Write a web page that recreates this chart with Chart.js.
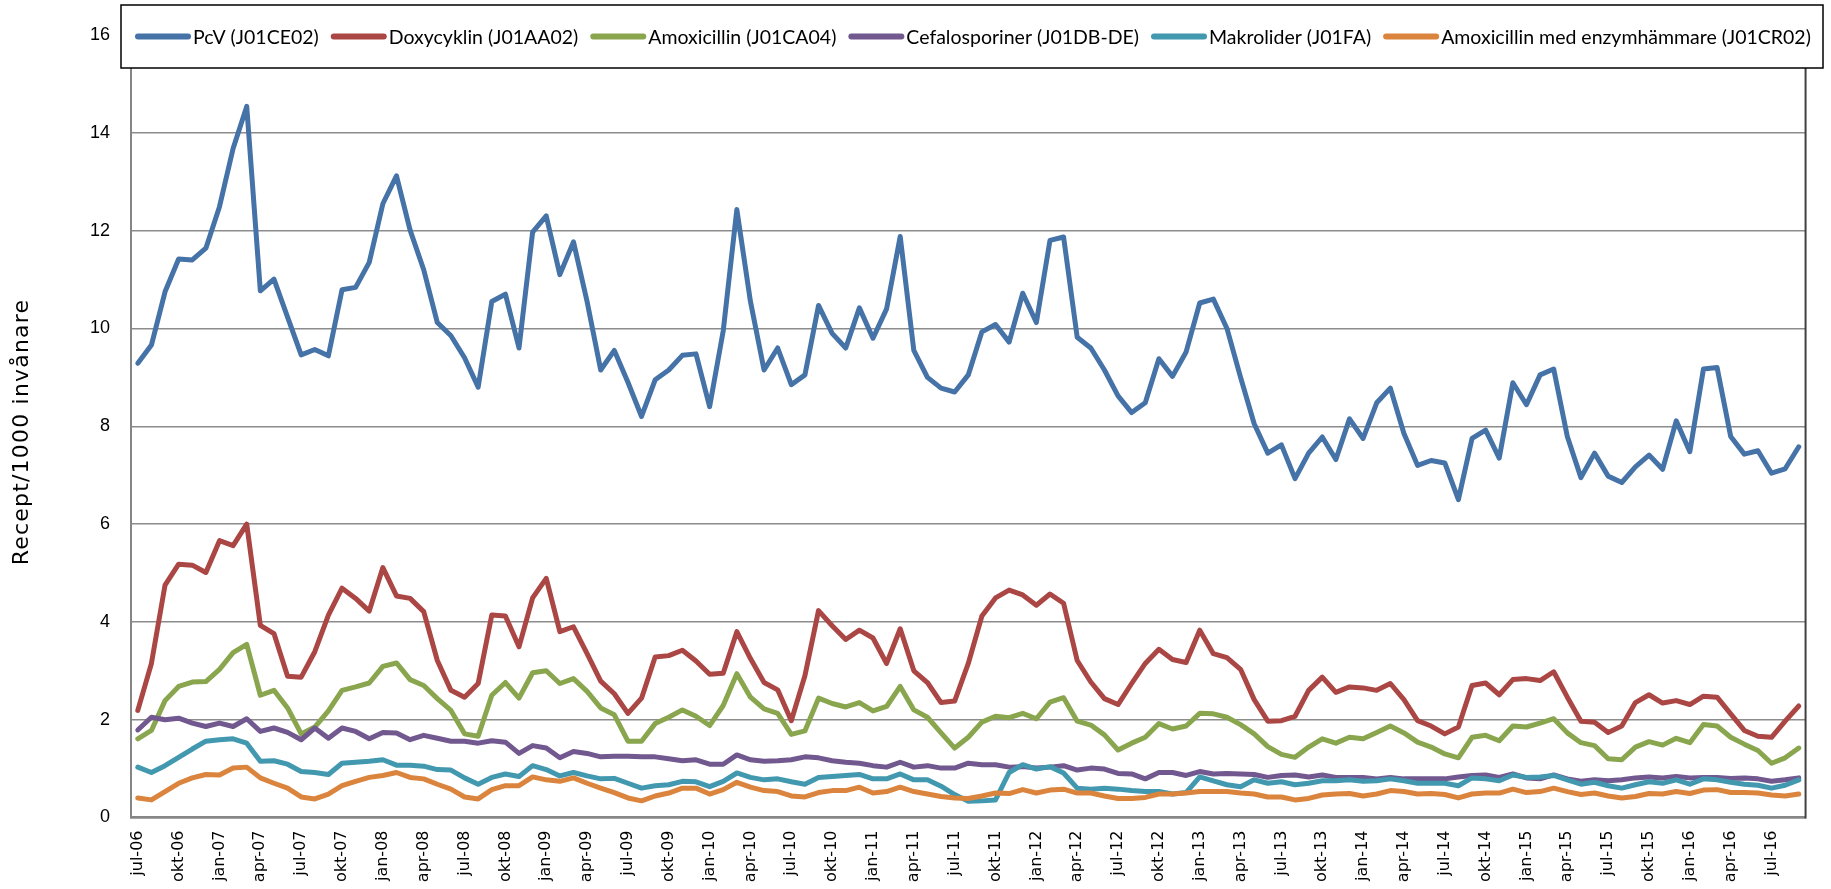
<!DOCTYPE html>
<html>
<head>
<meta charset="utf-8">
<script src="https://cdn.jsdelivr.net/npm/chart.js@4.4.0/dist/chart.umd.min.js"></script>
<style>
  html, body { margin: 0; padding: 0; background: #fff; }
  #wrap { width: 1831px; height: 889px; }
</style>
</head>
<body>
<div id="wrap"><canvas id="chart" width="1831" height="889"></canvas></div>
<script>
// months jul-06 .. sep-16
const months = [
  'jul-06','aug-06','sep-06','okt-06','nov-06','dec-06',
  'jan-07','feb-07','mar-07','apr-07','maj-07','jun-07','jul-07','aug-07','sep-07','okt-07','nov-07','dec-07',
  'jan-08','feb-08','mar-08','apr-08','maj-08','jun-08','jul-08','aug-08','sep-08','okt-08','nov-08','dec-08',
  'jan-09','feb-09','mar-09','apr-09','maj-09','jun-09','jul-09','aug-09','sep-09','okt-09','nov-09','dec-09',
  'jan-10','feb-10','mar-10','apr-10','maj-10','jun-10','jul-10','aug-10','sep-10','okt-10','nov-10','dec-10',
  'jan-11','feb-11','mar-11','apr-11','maj-11','jun-11','jul-11','aug-11','sep-11','okt-11','nov-11','dec-11',
  'jan-12','feb-12','mar-12','apr-12','maj-12','jun-12','jul-12','aug-12','sep-12','okt-12','nov-12','dec-12',
  'jan-13','feb-13','mar-13','apr-13','maj-13','jun-13','jul-13','aug-13','sep-13','okt-13','nov-13','dec-13',
  'jan-14','feb-14','mar-14','apr-14','maj-14','jun-14','jul-14','aug-14','sep-14','okt-14','nov-14','dec-14',
  'jan-15','feb-15','mar-15','apr-15','maj-15','jun-15','jul-15','aug-15','sep-15','okt-15','nov-15','dec-15',
  'jan-16','feb-16','mar-16','apr-16','maj-16','jun-16','jul-16','aug-16','sep-16'
];

const yTicks = [0, 2, 4, 6, 8, 10, 12, 14, 16];
const yTitle = 'Recept/1000 invånare';

const pcv = [
  9.29, 9.66, 10.75, 11.42, 11.40, 11.64, 12.49, 13.68, 14.54, 10.77, 11.01, 10.23,
  9.46, 9.57, 9.44, 10.79, 10.84, 11.35, 12.55, 13.12, 12.01, 11.20, 10.12, 9.85,
  9.40, 8.80, 10.55, 10.70, 9.60, 11.97, 12.30, 11.10, 11.77, 10.55, 9.15, 9.55,
  8.90, 8.20, 8.95, 9.15, 9.45, 9.48, 8.40, 9.95, 12.43, 10.55, 9.15, 9.60,
  8.85, 9.05, 10.47, 9.90, 9.60, 10.42, 9.80, 10.40, 11.88, 9.55, 9.00, 8.78,
  8.70, 9.05, 9.93, 10.08, 9.72, 10.72, 10.12, 11.80, 11.87, 9.82, 9.60, 9.15,
  8.62, 8.28, 8.48, 9.38, 9.02, 9.52, 10.52, 10.60, 10.00, 9.00, 8.05, 7.45,
  7.62, 6.93, 7.45, 7.78, 7.32, 8.15, 7.75, 8.48, 8.78, 7.85, 7.20, 7.30,
  7.25, 6.50, 7.75, 7.92, 7.35, 8.89, 8.44, 9.05, 9.17, 7.79, 6.95, 7.45,
  6.98, 6.85, 7.17, 7.41, 7.12, 8.11, 7.48, 9.17, 9.20, 7.79, 7.43, 7.50,
  7.04, 7.13, 7.58
];

const doxy = [
  2.19, 3.15, 4.75, 5.18, 5.16, 5.01, 5.66, 5.56, 6.00, 3.93, 3.76, 2.89,
  2.87, 3.39, 4.14, 4.69, 4.48, 4.22, 5.11, 4.53, 4.48, 4.21, 3.21, 2.60,
  2.46, 2.74, 4.14, 4.12, 3.49, 4.49, 4.89, 3.80, 3.90, 3.35, 2.79, 2.53,
  2.13, 2.44, 3.28, 3.31, 3.42, 3.20, 2.93, 2.95, 3.80, 3.25, 2.76, 2.61,
  1.98, 2.90, 4.23, 3.92, 3.64, 3.83, 3.67, 3.15, 3.86, 3.00, 2.76, 2.35,
  2.38, 3.15, 4.12, 4.49, 4.65, 4.55, 4.34, 4.57, 4.38, 3.21, 2.77, 2.43,
  2.31, 2.74, 3.15, 3.44, 3.23, 3.17, 3.83, 3.35, 3.27, 3.03, 2.41, 1.97,
  1.98, 2.07, 2.60, 2.87, 2.56, 2.67, 2.65, 2.60, 2.74, 2.41, 1.98, 1.87,
  1.71, 1.85, 2.70, 2.75, 2.51, 2.82, 2.84, 2.80, 2.98, 2.46, 1.97, 1.95,
  1.74, 1.87, 2.35, 2.51, 2.34, 2.39, 2.31, 2.48, 2.46, 2.12, 1.78, 1.66,
  1.64, 1.97, 2.28
];

const amox = [
  1.61, 1.78, 2.39, 2.68, 2.77, 2.78, 3.03, 3.37, 3.54, 2.50, 2.60, 2.24,
  1.71, 1.85, 2.18, 2.60, 2.67, 2.75, 3.09, 3.16, 2.82, 2.70, 2.43, 2.19,
  1.71, 1.66, 2.50, 2.76, 2.44, 2.96, 3.00, 2.74, 2.84, 2.58, 2.24, 2.10,
  1.56, 1.56, 1.92, 2.05, 2.20, 2.07, 1.88, 2.29, 2.94, 2.46, 2.22, 2.13,
  1.70, 1.77, 2.44, 2.33, 2.26, 2.35, 2.18, 2.27, 2.68, 2.20, 2.05, 1.73,
  1.42, 1.64, 1.95, 2.07, 2.04, 2.13, 2.02, 2.36, 2.45, 1.97, 1.89, 1.69,
  1.38, 1.52, 1.64, 1.92, 1.81, 1.87, 2.13, 2.12, 2.05, 1.90, 1.71, 1.45,
  1.29, 1.23, 1.44, 1.61, 1.52, 1.64, 1.61, 1.74, 1.87, 1.73, 1.54, 1.44,
  1.30, 1.22, 1.64, 1.68, 1.57, 1.87, 1.85, 1.93, 2.02, 1.73, 1.53, 1.47,
  1.20, 1.18, 1.44, 1.55, 1.48, 1.62, 1.53, 1.90, 1.87, 1.64, 1.50, 1.37,
  1.11, 1.22, 1.42
];

const cefa = [
  1.79, 2.05, 2.00, 2.03, 1.93, 1.86, 1.93, 1.86, 2.02, 1.76, 1.83, 1.74,
  1.59, 1.83, 1.62, 1.83, 1.76, 1.61, 1.74, 1.73, 1.59, 1.68, 1.62, 1.56,
  1.56, 1.52, 1.57, 1.54, 1.31, 1.47, 1.42, 1.22, 1.35, 1.31, 1.24, 1.25,
  1.25, 1.24, 1.24, 1.20, 1.16, 1.18, 1.09, 1.09, 1.28, 1.18, 1.15, 1.16,
  1.18, 1.24, 1.22, 1.16, 1.13, 1.11, 1.06, 1.03, 1.13, 1.03, 1.06, 1.01,
  1.01, 1.11, 1.08, 1.08, 1.03, 1.04, 1.01, 1.03, 1.06, 0.97, 1.01, 0.99,
  0.90, 0.89, 0.79, 0.92, 0.92, 0.86, 0.94, 0.89, 0.90, 0.89, 0.88, 0.82,
  0.86, 0.87, 0.83, 0.87, 0.82, 0.82, 0.82, 0.79, 0.82, 0.79, 0.79, 0.79,
  0.79, 0.83, 0.86, 0.87, 0.82, 0.89, 0.81, 0.79, 0.87, 0.79, 0.74, 0.77,
  0.75, 0.77, 0.81, 0.83, 0.81, 0.84, 0.81, 0.82, 0.82, 0.80, 0.81, 0.79,
  0.74, 0.77, 0.81
];

const makro = [
  1.03, 0.92, 1.06, 1.23, 1.40, 1.56, 1.59, 1.61, 1.52, 1.15, 1.16, 1.09,
  0.94, 0.92, 0.88, 1.11, 1.13, 1.15, 1.18, 1.07, 1.07, 1.05, 0.98, 0.97,
  0.81, 0.68, 0.82, 0.89, 0.84, 1.06, 0.98, 0.85, 0.92, 0.85, 0.79, 0.80,
  0.70, 0.60, 0.65, 0.67, 0.74, 0.73, 0.63, 0.74, 0.91, 0.82, 0.77, 0.79,
  0.73, 0.68, 0.82, 0.84, 0.86, 0.88, 0.79, 0.79, 0.89, 0.77, 0.77, 0.64,
  0.47, 0.33, 0.34, 0.36, 0.92, 1.08, 0.99, 1.04, 0.91, 0.60, 0.58, 0.60,
  0.58, 0.55, 0.53, 0.53, 0.48, 0.51, 0.83, 0.75, 0.67, 0.63, 0.77, 0.70,
  0.73, 0.67, 0.70, 0.75, 0.75, 0.77, 0.74, 0.75, 0.79, 0.75, 0.70, 0.70,
  0.70, 0.65, 0.81, 0.79, 0.75, 0.87, 0.82, 0.83, 0.86, 0.77, 0.68, 0.72,
  0.65, 0.60, 0.67, 0.73, 0.70, 0.77, 0.68, 0.79, 0.77, 0.72, 0.68, 0.66,
  0.60, 0.66, 0.77
];

const amoxEnz = [
  0.40, 0.36, 0.53, 0.70, 0.81, 0.88, 0.87, 1.01, 1.03, 0.81, 0.70, 0.60,
  0.42, 0.38, 0.48, 0.65, 0.74, 0.82, 0.86, 0.92, 0.82, 0.79, 0.68, 0.58,
  0.42, 0.38, 0.57, 0.65, 0.65, 0.83, 0.77, 0.74, 0.81, 0.70, 0.60, 0.51,
  0.40, 0.34, 0.44, 0.50, 0.60, 0.60, 0.48, 0.57, 0.72, 0.62, 0.55, 0.53,
  0.44, 0.42, 0.51, 0.55, 0.55, 0.62, 0.50, 0.53, 0.62, 0.53, 0.48, 0.43,
  0.40, 0.39, 0.44, 0.50, 0.49, 0.57, 0.50, 0.56, 0.58, 0.50, 0.50, 0.44,
  0.39, 0.39, 0.41, 0.48, 0.48, 0.50, 0.53, 0.53, 0.53, 0.50, 0.48, 0.42,
  0.42, 0.36, 0.39, 0.46, 0.48, 0.49, 0.44, 0.48, 0.55, 0.53, 0.48, 0.49,
  0.47, 0.40, 0.48, 0.50, 0.50, 0.58, 0.51, 0.53, 0.60, 0.53, 0.47, 0.50,
  0.44, 0.40, 0.43, 0.49, 0.48, 0.53, 0.49, 0.56, 0.57, 0.51, 0.51, 0.50,
  0.46, 0.44, 0.48
];

const seriesNames = [
  'PcV (J01CE02)',
  'Doxycyklin (J01AA02)',
  'Amoxicillin (J01CA04)',
  'Cefalosporiner (J01DB-DE)',
  'Makrolider (J01FA)',
  'Amoxicillin med enzymhämmare (J01CR02)'
];
const seriesData = [pcv, doxy, amox, cefa, makro, amoxEnz];
const seriesColors = ['#4572A7', '#AA4643', '#89A54E', '#71588F', '#4198AF', '#DB843D'];

// Excel-like legend box drawn over the top of the plot, plus the frame and y title
const boxLegend = {
  id: 'boxLegend',
  afterDraw(chart) {
    const ctx = chart.ctx;
    const a = chart.chartArea;
    ctx.save();

    // right frame of the plot area
    ctx.strokeStyle = '#404040';
    ctx.lineWidth = 2;
    ctx.beginPath();
    ctx.moveTo(a.right, 60);
    ctx.lineTo(a.right, a.bottom + 1);
    ctx.stroke();

    ctx.fillStyle = '#fff';
    ctx.fillRect(121, 5, 1702, 63);
    ctx.strokeStyle = '#000';
    ctx.lineWidth = 1.5;
    ctx.strokeRect(121, 5, 1702, 63);

    ctx.font = '19.5px Lato';
    ctx.textBaseline = 'middle';
    ctx.lineCap = 'round';
    let x = 138;
    const y = 36.5;
    chart.data.datasets.forEach(ds => {
      ctx.strokeStyle = ds.borderColor;
      ctx.lineWidth = 6;
      ctx.beginPath();
      ctx.moveTo(x, y);
      ctx.lineTo(x + 50, y);
      ctx.stroke();
      x += 55;
      ctx.fillStyle = '#000';
      ctx.fillText(ds.label, x, y + 1);
      x += ctx.measureText(ds.label).width + 15;
    });

    // rotated axis title
    ctx.translate(22, 432);
    ctx.rotate(-Math.PI / 2);
    ctx.font = '22px "DejaVu Sans"';
    if ('letterSpacing' in ctx) ctx.letterSpacing = '1.2px';
    ctx.textAlign = 'center';
    ctx.fillStyle = '#000';
    ctx.fillText(yTitle, 0, 0);
    ctx.restore();
  }
};

new Chart(document.getElementById('chart'), {
  type: 'line',
  data: {
    labels: months,
    datasets: seriesData.map((d, i) => ({
      label: seriesNames[i],
      data: d,
      borderColor: seriesColors[i],
      backgroundColor: seriesColors[i],
      borderWidth: 5,
      pointRadius: 0,
      tension: 0,
      borderCapStyle: 'round',
      borderJoinStyle: 'round',
      order: seriesData.length - i
    }))
  },
  options: {
    responsive: false,
    devicePixelRatio: 1,
    animation: false,
    layout: { padding: { top: 35, right: 9, left: 0, bottom: 0 } },
    plugins: {
      legend: { display: false },
      tooltip: { enabled: false }
    },
    scales: {
      x: {
        offset: true,
        grid: { display: false, drawTicks: false },
        border: { color: '#868686', width: 2.5 },
        ticks: {
          autoSkip: false,
          maxRotation: 90,
          minRotation: 90,
          padding: 13,
          color: '#000',
          font: { family: 'DejaVu Sans', size: 16 },
          callback: function (v, i) { return i % 3 === 0 ? months[i] : ''; }
        },
        afterFit: s => { s.height = 71.5; }
      },
      y: {
        min: 0,
        max: 16,
        afterBuildTicks: s => { s.ticks = yTicks.map(v => ({ value: v })); },
        grid: { color: '#8c8c8c', lineWidth: 1.5, drawTicks: false },
        border: { color: '#868686', width: 2 },
        ticks: {
          padding: 21,
          color: '#000',
          font: { family: 'Liberation Sans', size: 18 }
        },
        afterFit: s => { s.width = 131; }
      }
    }
  },
  plugins: [boxLegend]
});
</script>
</body>
</html>
